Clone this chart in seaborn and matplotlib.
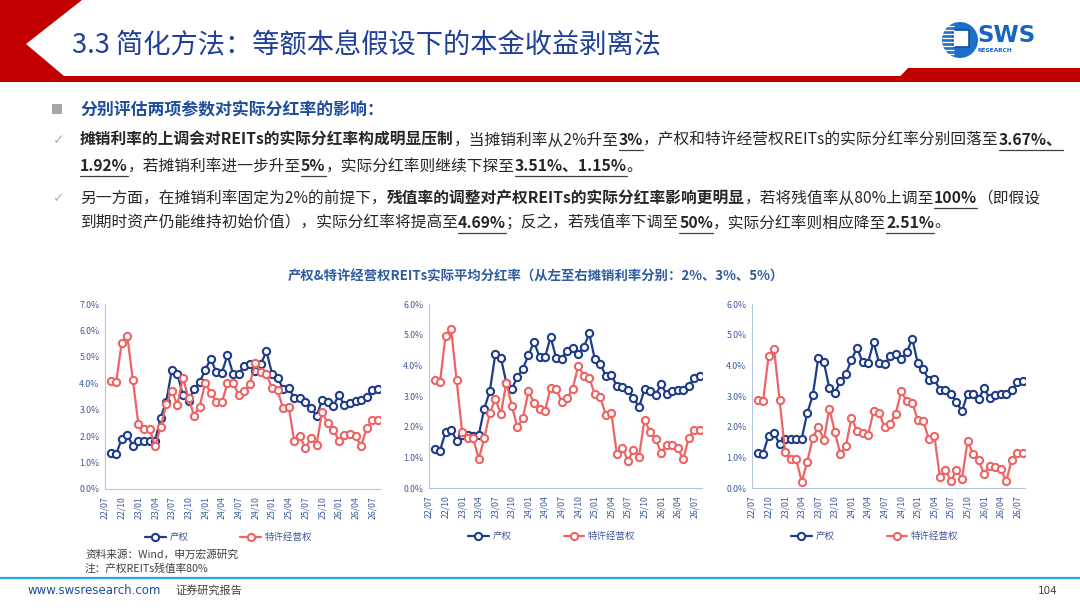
import matplotlib
matplotlib.use("Agg")
import matplotlib.pyplot as plt
from matplotlib.patches import Polygon, Circle, Rectangle
import seaborn as sns
import numpy as np

# ---- data (monthly, 22/08 .. 26/08) ----
tick_labels = ['22/07', '22/10', '23/01', '23/04', '23/07', '23/10', '24/01', '24/04', '24/07',
               '24/10', '25/01', '25/04', '25/07', '25/10', '26/01', '26/04', '26/07']
series_names = ['产权', '特许经营权']

prop_2pct = [1.35, 1.31, 1.90, 2.03, 1.64, 1.83, 1.83, 1.81, 1.83, 2.70, 3.31, 4.50, 4.37, 3.54, 3.34,
             3.78, 4.05, 4.50, 4.93, 4.42, 4.40, 5.07, 4.37, 4.37, 4.64, 4.73, 4.48, 4.73, 5.21, 4.37,
             4.20, 3.80, 3.82, 3.44, 3.44, 3.31, 3.06, 2.77, 3.35, 3.31, 3.15, 3.54, 3.19, 3.27, 3.34,
             3.36, 3.50, 3.74, 3.79]
conc_2pct = [4.10, 4.03, 5.54, 5.80, 4.13, 2.45, 2.28, 2.27, 1.62, 2.35, 3.20, 3.72, 3.18, 4.20, 3.45,
             2.77, 3.12, 4.02, 3.63, 3.30, 3.28, 4.00, 4.00, 3.57, 3.70, 3.97, 4.75, 4.43, 4.35, 3.82,
             3.73, 3.05, 3.12, 1.80, 2.00, 1.55, 1.93, 1.67, 2.93, 2.48, 2.25, 1.83, 2.05, 2.07, 2.00,
             1.62, 2.30, 2.60, 2.60]
prop_3pct = [1.26, 1.22, 1.83, 1.90, 1.54, 1.74, 1.74, 1.70, 1.73, 2.59, 3.15, 4.37, 4.25, 3.42, 3.23,
             3.63, 3.89, 4.34, 4.76, 4.28, 4.26, 4.93, 4.24, 4.22, 4.48, 4.55, 4.37, 4.59, 5.04, 4.20,
             4.04, 3.66, 3.68, 3.33, 3.30, 3.20, 2.95, 2.63, 3.22, 3.16, 3.02, 3.39, 3.05, 3.15, 3.20,
             3.21, 3.34, 3.59, 3.66]
conc_3pct = [3.51, 3.46, 4.97, 5.19, 3.51, 1.82, 1.63, 1.63, 0.94, 1.63, 2.43, 2.90, 2.42, 3.44, 2.67,
             1.98, 2.29, 3.16, 2.77, 2.58, 2.52, 3.27, 3.24, 2.81, 2.92, 3.24, 3.98, 3.66, 3.60, 3.05,
             2.97, 2.37, 2.44, 1.10, 1.32, 0.88, 1.25, 1.02, 2.23, 1.82, 1.60, 1.15, 1.40, 1.40, 1.32,
             0.93, 1.63, 1.90, 1.90]
prop_5pct = [1.15, 1.12, 1.71, 1.79, 1.43, 1.61, 1.60, 1.60, 1.61, 2.45, 3.02, 4.25, 4.10, 3.26, 3.10,
             3.49, 3.73, 4.17, 4.58, 4.11, 4.09, 4.76, 4.07, 4.04, 4.30, 4.38, 4.21, 4.42, 4.87, 4.07,
             3.88, 3.51, 3.54, 3.20, 3.20, 3.08, 2.79, 2.50, 3.08, 3.05, 2.89, 3.26, 2.92, 3.02, 3.08,
             3.08, 3.18, 3.45, 3.50]
conc_5pct = [2.88, 2.83, 4.30, 4.52, 2.86, 1.16, 0.95, 0.94, 0.20, 0.86, 1.63, 2.00, 1.57, 2.58, 1.82,
             1.10, 1.38, 2.28, 1.87, 1.78, 1.73, 2.50, 2.45, 1.98, 2.10, 2.42, 3.15, 2.83, 2.77, 2.22,
             2.17, 1.60, 1.70, 0.36, 0.60, 0.22, 0.58, 0.30, 1.52, 1.12, 0.90, 0.46, 0.72, 0.70, 0.62,
             0.22, 0.92, 1.15, 1.13]
y_max = [7, 6, 6]

BLUE = '#1F3C88'
RED = '#EE6464'
TXT = '#262626'
AXIS_TXT = '#3F5A9A'

sns.set_theme(style='white')
plt.rcParams['font.family'] = ['Noto Sans CJK SC', 'DejaVu Sans']
plt.rcParams['axes.unicode_minus'] = False

fig = plt.figure(figsize=(10.8, 6.08), dpi=100)
fig.patch.set_facecolor('white')

# background axes in pixel coordinates
bg = fig.add_axes([0, 0, 1, 1], zorder=0)
bg.set_xlim(0, 1080)
bg.set_ylim(608, 0)
bg.axis('off')

# header chevron + red band
bg.add_patch(Polygon([(0, 0), (82, 0), (26, 44), (64, 76), (1080, 76), (1080, 82), (0, 82)],
                     closed=True, color='#C00000', lw=0))
bg.add_patch(Polygon([(895, 82), (908, 68), (1080, 68), (1080, 82)], closed=True, color='#C00000', lw=0))
bg.text(72, 45, '3.3 简化方法：等额本息假设下的本金收益剥离法', fontsize=19.6, color='#1F3F99',
        va='center', ha='left')

# logo
bg.add_patch(Circle((960, 40), 18, color='#1E6FC8', lw=0))
for yy in range(26, 56, 4):
    bg.plot([942, 954], [yy, yy], color='white', lw=1.0, solid_capstyle='butt')
bg.add_patch(Rectangle((953, 30), 16, 17, facecolor='white', edgecolor='#0D4FA0', lw=1.2))
bg.text(977, 36, 'SWS', fontsize=16.5, fontweight='bold', color='#1565C0', va='center', ha='left',
        family='DejaVu Sans')
bg.text(978, 51, 'RESEARCH', fontsize=4.2, fontweight='bold', color='#1565C0', va='center', ha='left',
        family='DejaVu Sans')

# bullet header
bg.add_patch(Rectangle((52, 104), 10, 10, color='#A6A6A6', lw=0))
bg.text(80, 110, '分别评估两项参数对实际分红率的影响：', fontsize=12.2, fontweight='bold',
        color='#1F4E9E', va='center', ha='left')

renderer = fig.canvas.get_renderer()


def draw_rich(x, y, segments, size=11.3):
    for text, bold, under in segments:
        t = bg.text(x, y, text, fontsize=size, fontweight='bold' if bold else 'normal',
                    color=TXT, va='center', ha='left')
        bb = t.get_window_extent(renderer)
        if under:
            bg.plot([x, x + bb.width], [y + 9.5, y + 9.5], color='#404040', lw=0.9)
        x += bb.width


lines = [
    (140, [('摊销利率的上调会对REITs的实际分红率构成明显压制', True, False),
           ('，当摊销利率从2%升至', False, False), ('3%', True, True),
           ('，产权和特许经营权REITs的实际分红率分别回落至', False, False), ('3.67%、', True, True)]),
    (166, [('1.92%', True, True), ('，若摊销利率进一步升至', False, False), ('5%', True, True),
           ('，实际分红率则继续下探至', False, False), ('3.51%、1.15%', True, True), ('。', False, False)]),
    (198, [('另一方面，在摊销利率固定为2%的前提下，', False, False),
           ('残值率的调整对产权REITs的实际分红率影响更明显', True, False),
           ('，若将残值率从80%上调至', False, False), ('100%', True, True), ('（即假设', False, False)]),
    (223, [('到期时资产仍能维持初始价值），实际分红率将提高至', False, False), ('4.69%', True, True),
           ('；反之，若残值率下调至', False, False), ('50%', True, True),
           ('，实际分红率则相应降至', False, False), ('2.51%', True, True), ('。', False, False)]),
]
for yy, segs in lines:
    draw_rich(80, yy, segs)
for yy in (140, 198):
    bg.text(53, yy, '✓', fontsize=10, color='#B0B0B0', va='center', ha='left', family='DejaVu Sans')

# chart title
bg.text(536, 277, '产权&特许经营权REITs实际平均分红率（从左至右摊销利率分别：2%、3%、5%）',
        fontsize=9.6, fontweight='bold', color='#2E5C9E', va='center', ha='center')

# charts
months = np.arange(1, len(prop_2pct) + 1)
tick_pos = np.arange(0, 49, 3)
panels = [
    ([105 / 1080, 1 - 489 / 608, 275 / 1080, 185 / 608], prop_2pct, conc_2pct, y_max[0]),
    ([429 / 1080, 1 - 488 / 608, 273 / 1080, 184 / 608], prop_3pct, conc_3pct, y_max[1]),
    ([752 / 1080, 1 - 488 / 608, 273 / 1080, 184 / 608], prop_5pct, conc_5pct, y_max[2]),
]
for rect, prop, conc, ym in panels:
    ax = fig.add_axes(rect, zorder=2)
    ax.patch.set_alpha(0)
    for vals, col, name in ((prop, BLUE, series_names[0]), (conc, RED, series_names[1])):
        sns.lineplot(x=months, y=vals, ax=ax, color=col, lw=1.6, marker='o', markersize=5.2,
                     markerfacecolor='white', markeredgecolor=col, markeredgewidth=1.5, label=name)
    ax.set_xlim(0, 49.4)
    ax.set_ylim(0, ym)
    ax.set_yticks(np.arange(0, ym + 0.5, 1))
    ax.set_yticklabels([f'{v:.1f}%' for v in np.arange(0, ym + 0.5, 1)], fontsize=6.3, color=AXIS_TXT)
    ax.set_xticks(tick_pos)
    ax.set_xticklabels(tick_labels, rotation=90, fontsize=6.3, color=AXIS_TXT)
    ax.tick_params(axis='x', length=3, width=0.6, color='#B4C3E0', pad=2)
    ax.tick_params(axis='y', length=0, pad=4)
    for s in ('top', 'right'):
        ax.spines[s].set_visible(False)
    for s in ('left', 'bottom'):
        ax.spines[s].set_color('#B4C3E0')
        ax.spines[s].set_linewidth(0.8)
    ax.set_xlabel('')
    ax.set_ylabel('')
    leg = ax.legend(loc='upper center', bbox_to_anchor=(0.45, -0.19), ncol=2, frameon=False,
                    fontsize=6.8, columnspacing=5.5, handlelength=2.2, handletextpad=0.4)
    for t in leg.get_texts():
        t.set_color(AXIS_TXT)

# source note + footer
bg.text(85, 555, '资料来源：Wind，申万宏源研究', fontsize=7.7, color='#404040', va='center', ha='left')
bg.text(85, 569, '注：产权REITs残值率80%', fontsize=7.7, color='#404040', va='center', ha='left')
bg.plot([0, 1080], [578, 578], color='#22A7E6', lw=1.6)
bg.text(28, 591, 'www.swsresearch.com', fontsize=8.5, color='#1F4E9E', va='center', ha='left',
        family='DejaVu Sans')
bg.text(175, 590, '证券研究报告', fontsize=8, color='#404040', va='center', ha='left')
bg.text(1058, 591, '104', fontsize=7.5, color='#404040', va='center', ha='right', family='DejaVu Sans')

fig.savefig('out.png', dpi=100, facecolor='white')
